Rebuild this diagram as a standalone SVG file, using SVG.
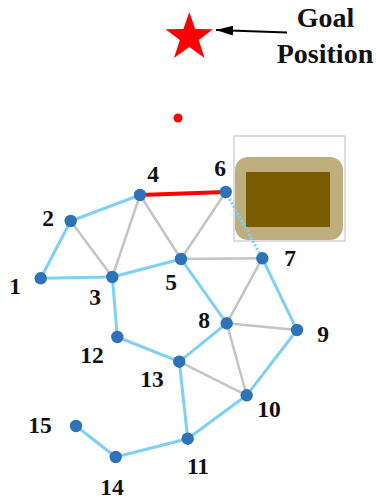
<svg xmlns="http://www.w3.org/2000/svg" width="376" height="501" viewBox="0 0 376 501">
<defs>
<style>
.b{stroke:#7fd0f7;stroke-width:3;fill:none;stroke-linecap:round}
.g{stroke:#c4c4c4;stroke-width:2.5;fill:none;stroke-linecap:round}
.r{stroke:#ff0000;stroke-width:4;fill:none}
.d{stroke:#7fd0f7;stroke-width:3;fill:none;stroke-dasharray:2 2}
.n{fill:#2e72b8}
.t{font-family:"Liberation Serif",serif;font-weight:bold;font-size:23.5px;fill:#111;text-anchor:middle}
.h{font-family:"Liberation Serif",serif;font-weight:bold;font-size:28px;fill:#111;text-anchor:middle}
</style>
<marker id="ah" viewBox="0 0 10 10" refX="10" refY="5" markerWidth="17" markerHeight="10" markerUnits="userSpaceOnUse" orient="auto" preserveAspectRatio="none">
<path d="M0,0 L10,5 L0,10 Z" fill="#000"/>
</marker>
</defs>
<rect width="376" height="501" fill="#fff"/>
<g id="goal">
<polygon fill="#ff0000" points="189.3,12 195.2,29 213,29.3 198.8,40 204.5,58 189.3,47 174,58 179.8,40 165.5,29.3 183.4,29"/>
<line x1="287" y1="32.5" x2="216" y2="30" stroke="#000" stroke-width="2" marker-end="url(#ah)"/>
<text class="h" x="325.5" y="27">Goal</text>
<text class="h" x="325" y="63">Position</text>
</g>
<g id="robot"><circle cx="178" cy="118" r="4.5" fill="#ff0000"/></g>
<g id="obstacle">
<rect x="234" y="136" width="111" height="105" fill="#fff" stroke="#bbb" stroke-width="1"/>
<rect x="235" y="157" width="108" height="83" rx="13" fill="#bfae7d"/>
<rect x="246" y="172" width="84" height="55" fill="#7a5c00"/>
</g>
<g id="connectors">
<line class="g" x1="70.7" y1="221" x2="112.3" y2="277"/>
<line class="g" x1="112.3" y1="277" x2="140" y2="195"/>
<line class="g" x1="140" y1="195" x2="181" y2="259"/>
<line class="g" x1="181" y1="259" x2="225.7" y2="192"/>
<line class="g" x1="181" y1="259" x2="262.3" y2="258.3"/>
<line class="g" x1="262.3" y1="258.3" x2="226.7" y2="323.3"/>
<line class="g" x1="226.7" y1="323.3" x2="297" y2="330"/>
<line class="g" x1="226.7" y1="323.3" x2="246.7" y2="395.3"/>
<line class="g" x1="179.3" y1="361.7" x2="246.7" y2="395.3"/>
<line class="b" x1="40.7" y1="278.3" x2="70.7" y2="221"/>
<line class="b" x1="70.7" y1="221" x2="140" y2="195"/>
<line class="b" x1="40.7" y1="278.3" x2="112.3" y2="277"/>
<line class="b" x1="112.3" y1="277" x2="181" y2="259"/>
<line class="b" x1="112.3" y1="277" x2="117.3" y2="337"/>
<line class="b" x1="181" y1="259" x2="226.7" y2="323.3"/>
<line class="b" x1="262.3" y1="258.3" x2="297" y2="330"/>
<line class="b" x1="117.3" y1="337" x2="179.3" y2="361.7"/>
<line class="b" x1="179.3" y1="361.7" x2="226.7" y2="323.3"/>
<line class="b" x1="179.3" y1="361.7" x2="187.7" y2="438.7"/>
<line class="b" x1="297" y1="330" x2="246.7" y2="395.3"/>
<line class="b" x1="246.7" y1="395.3" x2="187.7" y2="438.7"/>
<line class="b" x1="187.7" y1="438.7" x2="115.7" y2="457"/>
<line class="b" x1="115.7" y1="457" x2="76" y2="426"/>
<line class="d" x1="225.7" y1="192" x2="262.3" y2="258.3"/>
<line class="r" x1="140" y1="195" x2="225.7" y2="192"/>
</g>
<g id="n1"><circle class="n" cx="40.7" cy="278.3" r="6.2"/><text class="t" x="15" y="294">1</text></g>
<g id="n2"><circle class="n" cx="70.7" cy="221" r="6.2"/><text class="t" x="48" y="226">2</text></g>
<g id="n3"><circle class="n" cx="112.3" cy="277" r="6.2"/><text class="t" x="95" y="305">3</text></g>
<g id="n4"><circle class="n" cx="140" cy="195" r="6.2"/><text class="t" x="153" y="182">4</text></g>
<g id="n5"><circle class="n" cx="181" cy="259" r="6.2"/><text class="t" x="171" y="290">5</text></g>
<g id="n6"><circle class="n" cx="225.7" cy="192" r="6.2"/><text class="t" x="220" y="176">6</text></g>
<g id="n7"><circle class="n" cx="262.3" cy="258.3" r="6.2"/><text class="t" x="290" y="266">7</text></g>
<g id="n8"><circle class="n" cx="226.7" cy="323.3" r="6.2"/><text class="t" x="204" y="328">8</text></g>
<g id="n9"><circle class="n" cx="297" cy="330" r="6.2"/><text class="t" x="323" y="342">9</text></g>
<g id="n10"><circle class="n" cx="246.7" cy="395.3" r="6.2"/><text class="t" x="269" y="417">10</text></g>
<g id="n11"><circle class="n" cx="187.7" cy="438.7" r="6.2"/><text class="t" x="198" y="474">11</text></g>
<g id="n12"><circle class="n" cx="117.3" cy="337" r="6.2"/><text class="t" x="92" y="363">12</text></g>
<g id="n13"><circle class="n" cx="179.3" cy="361.7" r="6.2"/><text class="t" x="152" y="387">13</text></g>
<g id="n14"><circle class="n" cx="115.7" cy="457" r="6.2"/><text class="t" x="112" y="495">14</text></g>
<g id="n15"><circle class="n" cx="76" cy="426" r="6.2"/><text class="t" x="40" y="433">15</text></g>
</svg>
